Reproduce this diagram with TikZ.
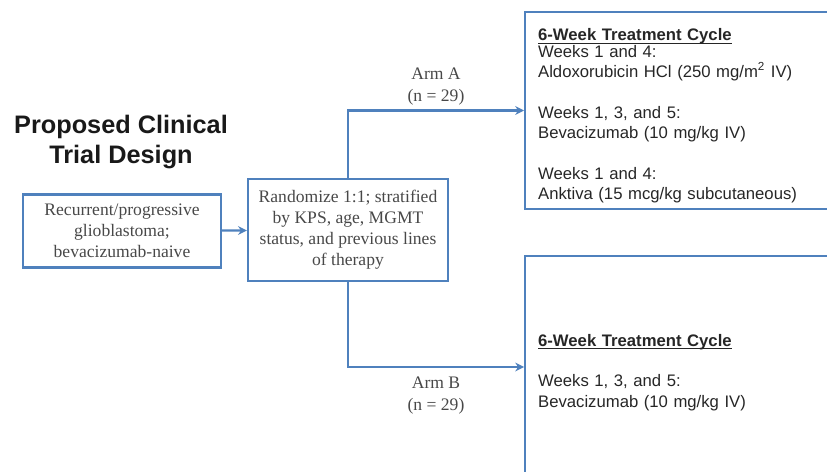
\documentclass[tikz,border=0pt]{standalone}
\usepackage{fontspec}
\setmainfont{Liberation Serif}
\setsansfont{Liberation Sans}
\usetikzlibrary{arrows.meta}
\definecolor{armblue}{RGB}{79,129,189}
\definecolor{textgray}{RGB}{72,72,72}
\newcommand{\cyclehead}{\setbox0\hbox{\textbf{6-Week Treatment Cycle}}\rlap{\rule[-1.8pt]{\wd0}{0.6pt}}\box0}

\begin{document}
\begin{tikzpicture}[>={Stealth[length=5pt,width=5pt]}, x=0.02cm, y=-0.02cm,
  box/.style={draw=armblue, line width=1.3pt, text=textgray, align=center, inner sep=0pt, font=\fontsize{10}{12}\selectfont},
  cycle/.style={draw=armblue, line width=1.3pt, anchor=west, align=left, text width=5.7cm, inner xsep=0.26cm, text=black!85, font=\sffamily\fontsize{9.5}{11.6}\selectfont},
  link/.style={->, armblue, line width=1.3pt},
  armlabel/.style={text=textgray, align=center, font=\fontsize{10}{12.5}\selectfont}]
\useasboundingbox (0,0) rectangle (827,472);
\clip (0,0) rectangle (827,472);
\node[align=center, text=black!90, font=\sffamily\bfseries\fontsize{14.4}{17}\selectfont] (title) at (121,142) {Proposed Clinical\\Trial Design};
\node[box, minimum width=3.96cm, minimum height=1.46cm] (pop) at (122,231) {Recurrent/progressive\\glioblastoma;\\bevacizumab-naive};
\node[box, minimum width=4cm, minimum height=2.04cm] (rand) at (348,230) {Randomize 1:1; stratified\\by KPS, age, MGMT\\status, and previous lines\\of therapy};
\node[cycle, minimum height=3.86cm] (cycA) at (524,110.5) {\rule{0pt}{13pt}\cyclehead\\[-2pt]
  Weeks 1 and 4:\\
  Aldoxorubicin HCl (250 mg/m\textsuperscript{2} IV)\\[11.6pt]
  Weeks 1, 3, and 5:\\
  Bevacizumab (10 mg/kg IV)\\[11.6pt]
  Weeks 1 and 4:\\
  Anktiva (15 mcg/kg subcutaneous)};
\node[cycle, minimum height=4.44cm] (cycB) at (524,367) {\rule{0pt}{13pt}\cyclehead\\[11.6pt]
  Weeks 1, 3, and 5:\\
  Bevacizumab (10 mg/kg IV)};
\draw[link] (pop) -- (rand);
\draw[link] (rand.north) |- node[armlabel, pos=0.75, above=-1pt] {Arm A\\(n = 29)} (cycA.west);
\draw[link] (rand.south) |- node[armlabel, pos=0.75, below=1.5pt] {Arm B\\(n = 29)} (cycB.west);
\end{tikzpicture}
\end{document}
